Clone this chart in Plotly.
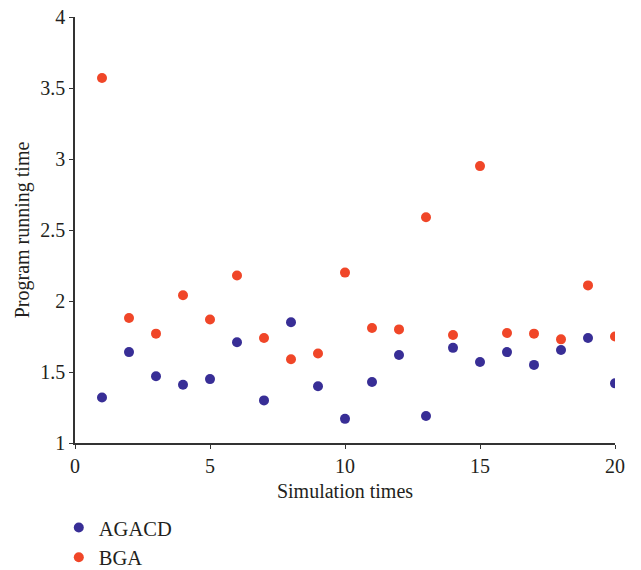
import plotly.graph_objects as go

runs = list(range(1, 21))
agacd = [1.32, 1.64, 1.47, 1.41, 1.45, 1.71, 1.30, 1.85, 1.40, 1.17,
         1.43, 1.62, 1.19, 1.67, 1.57, 1.64, 1.55, 1.655, 1.74, 1.42]
bga = [3.57, 1.88, 1.77, 2.04, 1.87, 2.18, 1.74, 1.59, 1.63, 2.20,
       1.81, 1.80, 2.59, 1.76, 2.95, 1.775, 1.77, 1.73, 2.11, 1.75]

x_ticks = [0, 5, 10, 15, 20]
y_ticks = [1, 1.5, 2, 2.5, 3, 3.5, 4]
y_ticklabels = ["1", "1.5", "2", "2.5", "3", "3.5", "4"]

FONT = "Liberation Serif"
TXT = "#231f20"

fig = go.Figure()
fig.add_trace(go.Scatter(x=runs, y=agacd, mode="markers", name="AGACD",
                         marker=dict(color="#382e96", size=10)))
fig.add_trace(go.Scatter(x=runs, y=bga, mode="markers", name="BGA",
                         marker=dict(color="#f04628", size=10)))

fig.update_layout(
    width=641, height=570,
    margin=dict(l=75, r=26, t=17, b=127, autoexpand=False),
    paper_bgcolor="white", plot_bgcolor="white",
    font=dict(family=FONT, size=20, color=TXT),
    showlegend=True,
    legend=dict(orientation="v", x=-0.03, xanchor="left", y=-0.152, yanchor="top",
                font=dict(size=20.5, family=FONT, color=TXT),
                tracegroupgap=0, bgcolor="rgba(0,0,0,0)"),
)
fig.update_xaxes(range=[0, 20], tickvals=x_ticks, showgrid=False, zeroline=False,
                 showline=True, linecolor="#333333", linewidth=1.5,
                 ticks="outside", ticklen=4, tickcolor="#333333",
                 tickfont=dict(size=20),
                 title=dict(text="Simulation times", font=dict(size=20), standoff=8))
fig.update_yaxes(range=[1, 4], tickvals=y_ticks, ticktext=y_ticklabels, showgrid=False,
                 zeroline=False, showline=True, linecolor="#333333", linewidth=1.5,
                 ticks="outside", ticklen=4, tickcolor="#333333",
                 tickfont=dict(size=20),
                 title=dict(text="Program running time", font=dict(size=20), standoff=5))

fig.write_html("out.html")
